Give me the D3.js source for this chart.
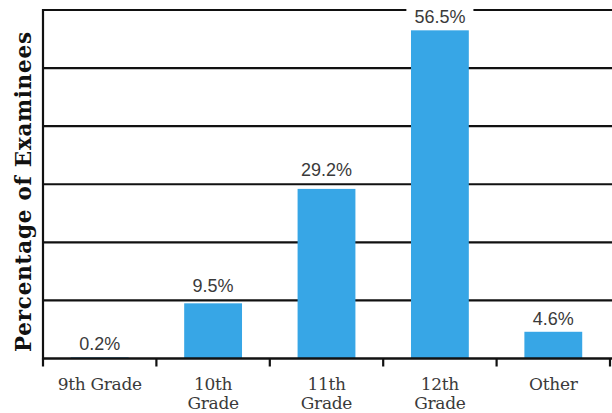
<!DOCTYPE html>
<html><head><meta charset="utf-8">
<script src="https://cdn.jsdelivr.net/npm/d3@7"></script>
<style>html,body{margin:0;padding:0;background:#fff;}svg{display:block;}</style>
</head><body>
<svg id="chart" width="612" height="413"></svg>
<script>
const categories = ["9th Grade", "10th\nGrade", "11th\nGrade", "12th\nGrade", "Other"];
const values = [0.2, 9.5, 29.2, 56.5, 4.6];
const valueLabels = ["0.2%", "9.5%", "29.2%", "56.5%", "4.6%"];
const gridTicks = [0, 10, 20, 30, 40, 50, 60];
const yTitle = "Percentage of Examinees";

const svg = d3.select("#chart");
const pLeft = 43, pRight = 610, pTop = 10, pBottom = 358.5;
const x = d3.scaleBand().domain(categories).range([pLeft, pRight]).paddingInner(0.49).paddingOuter(0.245);
const xb = d3.scaleBand().domain(categories).range([pLeft, pRight]);
const y = d3.scaleLinear().domain([0, 60]).range([pBottom, pTop]);

// gridlines
svg.append("g").selectAll("line").data(gridTicks.filter(d => d > 0)).join("line")
  .attr("x1", pLeft).attr("x2", 612).attr("y1", d => y(d)).attr("y2", d => y(d))
  .attr("stroke", "#111").attr("stroke-width", 2.2);

// bars
svg.append("g").selectAll("rect").data(values).join("rect")
  .attr("x", (d, i) => x(categories[i])).attr("width", x.bandwidth())
  .attr("y", d => y(d)).attr("height", d => pBottom - y(d))
  .attr("fill", "#37a6e6");

// value labels: lifted above an interior gridline when they would overlap it; white knockout otherwise
const interior = gridTicks.filter(d => d > 0 && d < 60).map(d => y(d));
const lg = svg.append("g").selectAll("g").data(values).join("g");
lg.each(function(d, i) {
  const cx = x(categories[i]) + x.bandwidth() / 2;
  let base = y(d) - 7;
  interior.forEach(gy => { if (gy > base - 14 && gy < base + 5) base = gy - 8; });
  const g = d3.select(this).attr("transform", `translate(${cx},${base})`);
  const t = g.append("text").attr("x", 0).attr("y", 0)
    .attr("text-anchor", "middle").attr("font-family", "Liberation Sans, Arial, sans-serif")
    .attr("font-size", 18).attr("fill", "#3a3a3a").text(valueLabels[i]);
  const bb = t.node().getBBox();
  g.insert("rect", "text").attr("x", bb.x - 8).attr("y", bb.y).attr("width", bb.width + 16).attr("height", bb.height - 3)
    .attr("fill", "#fff");
});

// left axis line
svg.append("line").attr("x1", pLeft).attr("x2", pLeft).attr("y1", pTop - 1).attr("y2", pBottom + 1)
  .attr("stroke", "#111").attr("stroke-width", 2.2);

// bottom axis
const xAxis = d3.axisBottom(xb).tickSize(0).tickFormat("");
const ax = svg.append("g").attr("transform", `translate(0,${pBottom})`).call(xAxis);
ax.select(".domain").remove();
svg.append("line").attr("x1", pLeft - 1).attr("x2", 612).attr("y1", pBottom).attr("y2", pBottom)
  .attr("stroke", "#111").attr("stroke-width", 2.5);
const bounds = categories.map(c => xb(c)).concat([xb(categories[categories.length - 1]) + xb.bandwidth()]);
svg.append("g").selectAll("line").data(bounds).join("line")
  .attr("x1", d => d).attr("x2", d => d).attr("y1", pBottom).attr("y2", pBottom + 8)
  .attr("stroke", "#111").attr("stroke-width", 2.2);

// category labels
svg.append("g").selectAll("text").data(categories).join("text")
  .attr("x", d => xb(d) + xb.bandwidth() / 2).attr("y", 390)
  .attr("text-anchor", "middle").attr("font-family", "DejaVu Serif, serif")
  .attr("font-size", 17).attr("fill", "#3a3a3a").attr("letter-spacing", -0.3)
  .each(function(d) {
    const lines = d.split("\n");
    const xx = d3.select(this).attr("x");
    d3.select(this).selectAll("tspan").data(lines).join("tspan")
      .attr("x", xx).attr("dy", (l, k) => k === 0 ? 0 : 19).text(l => l);
  });

// y title
svg.append("text").attr("transform", "translate(31,192) rotate(-90)")
  .attr("text-anchor", "middle").attr("font-family", "DejaVu Serif, serif")
  .attr("font-weight", "bold").attr("font-size", 21.5).attr("fill", "#111")
  .attr("textLength", 320).attr("lengthAdjust", "spacing").text(yTitle);
</script>
</body></html>
